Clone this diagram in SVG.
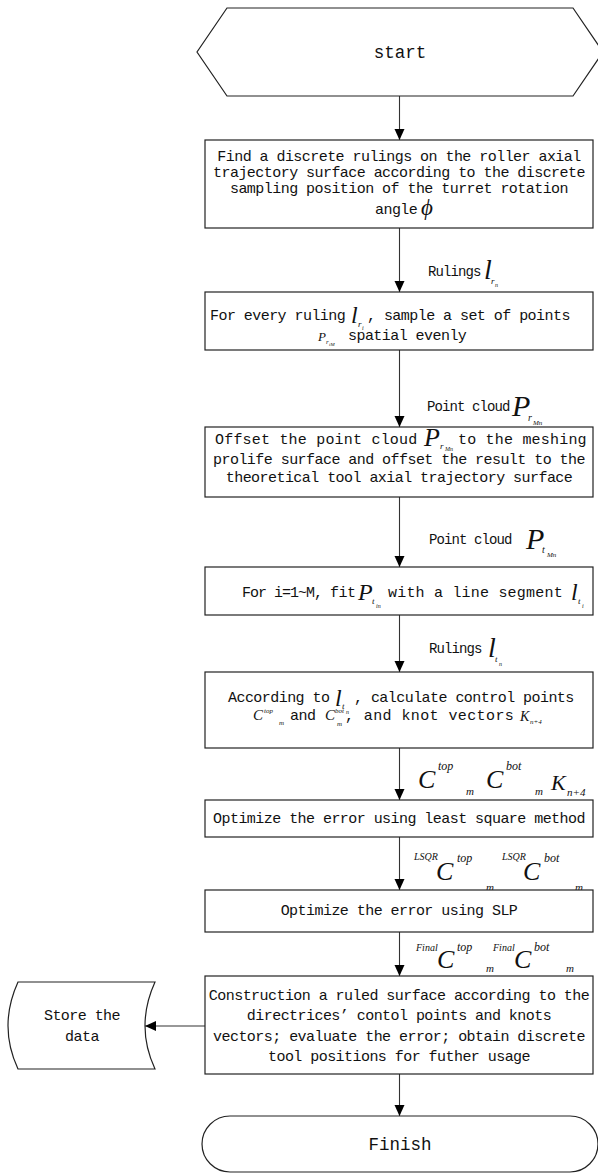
<svg xmlns="http://www.w3.org/2000/svg" width="598" height="1174" viewBox="0 0 598 1174">
<style>
.box{fill:#fff;stroke:#222;stroke-width:1.2}
.t{font-family:"Liberation Mono",monospace;font-size:15px;letter-spacing:-0.55px;fill:#111}
.w{letter-spacing:0.2px}
.l{font-family:"Liberation Mono",monospace;font-size:14px;letter-spacing:-0.9px;fill:#111}
.c{text-anchor:middle}
.big{font-family:"Liberation Mono",monospace;font-size:17.5px;fill:#111;text-anchor:middle}
.m{font-family:"Liberation Serif",serif;font-style:italic;fill:#111}
.conn{stroke:#333;stroke-width:1.1;fill:none}
</style>
<defs>
<marker id="ah" markerUnits="userSpaceOnUse" markerWidth="12" markerHeight="12" refX="11" refY="5" orient="auto">
<path d="M0,0 L11,5 L0,10 Z" fill="#000"/>
</marker>
</defs>
<g id="connectors">
<line class="conn" x1="399.5" y1="96" x2="399.5" y2="140" marker-end="url(#ah)"/>
<line class="conn" x1="399.5" y1="228" x2="399.5" y2="292" marker-end="url(#ah)"/>
<line class="conn" x1="399.5" y1="350" x2="399.5" y2="427" marker-end="url(#ah)"/>
<line class="conn" x1="399.5" y1="497" x2="399.5" y2="567" marker-end="url(#ah)"/>
<line class="conn" x1="399.5" y1="615" x2="399.5" y2="672" marker-end="url(#ah)"/>
<line class="conn" x1="399.5" y1="748" x2="399.5" y2="800" marker-end="url(#ah)"/>
<line class="conn" x1="399.5" y1="837" x2="399.5" y2="890" marker-end="url(#ah)"/>
<line class="conn" x1="399.5" y1="932" x2="399.5" y2="976" marker-end="url(#ah)"/>
<line class="conn" x1="205" y1="1026" x2="145" y2="1026" marker-end="url(#ah)"/>
<line class="conn" x1="399.5" y1="1074" x2="399.5" y2="1116" marker-end="url(#ah)"/>
</g>
<g id="labels">
<text class="l" x="428" y="276">Rulings</text>
<text class="m" x="484" y="279" font-size="28">l</text>
<text class="m" x="491" y="284" font-size="9">r</text>
<text class="m" x="495" y="287" font-size="6">n</text>

<text class="l" x="427" y="411">Point cloud</text>
<text class="m" x="512" y="416" font-size="30">P</text>
<text class="m" x="528" y="421" font-size="10">r</text>
<text class="m" x="533" y="425" font-size="7">Mn</text>

<text class="l" x="429" y="544">Point cloud</text>
<text class="m" x="526" y="549" font-size="30">P</text>
<text class="m" x="542" y="553" font-size="10">t</text>
<text class="m" x="547" y="557" font-size="7">Mn</text>

<text class="l" x="429" y="653">Rulings</text>
<text class="m" x="488" y="657" font-size="28">l</text>
<text class="m" x="495" y="662" font-size="9">t</text>
<text class="m" x="499" y="666" font-size="6">n</text>

<text class="m" x="418" y="788" font-size="26">C</text>
<text class="m" x="438" y="770" font-size="12">top</text>
<text class="m" x="466" y="795" font-size="11">m</text>
<text class="m" x="486" y="788" font-size="26">C</text>
<text class="m" x="506" y="770" font-size="12">bot</text>
<text class="m" x="535" y="795" font-size="11">m</text>
<text class="m" x="551" y="790" font-size="22">K</text>
<text class="m" x="567" y="796" font-size="11">n+4</text>

<text class="m" x="414" y="860" font-size="10">LSQR</text>
<text class="m" x="436" y="880" font-size="26">C</text>
<text class="m" x="457" y="862" font-size="12">top</text>
<text class="m" x="486" y="891" font-size="11">m</text>
<text class="m" x="502" y="860" font-size="10">LSQR</text>
<text class="m" x="523" y="880" font-size="26">C</text>
<text class="m" x="544" y="862" font-size="12">bot</text>
<text class="m" x="575" y="891" font-size="11">m</text>

<text class="m" x="416" y="951" font-size="10">Final</text>
<text class="m" x="437" y="968" font-size="26">C</text>
<text class="m" x="457" y="951" font-size="12">top</text>
<text class="m" x="486" y="972" font-size="11">m</text>
<text class="m" x="493" y="951" font-size="10">Final</text>
<text class="m" x="514" y="968" font-size="26">C</text>
<text class="m" x="534" y="951" font-size="12">bot</text>
<text class="m" x="566" y="972" font-size="11">m</text>
</g>
<g id="start">
<polygon class="box" points="227,8 573,8 603,52 573,96 227,96 197,52"/>
<text class="big" x="400" y="58">start</text>
</g>
<g id="box1">
<rect class="box" x="205" y="140" width="388" height="88"/>
<text class="t c" x="399" y="161">Find a discrete rulings on the roller axial</text>
<text class="t c" x="399" y="177">trajectory surface according to the discrete</text>
<text class="t c" x="399" y="193">sampling position of the turret rotation</text>
<text class="t" x="375" y="214">angle</text>
<text class="m" x="421" y="215" font-size="23">ϕ</text>
</g>
<g id="box2">
<rect class="box" x="205" y="292" width="388" height="58"/>
<text class="t" x="210" y="320">For every ruling</text>
<text class="m" x="351" y="323" font-size="24">l</text>
<text class="m" x="358" y="327" font-size="9">r</text>
<text class="m" x="362" y="330" font-size="6">i</text>
<text class="t" x="367" y="320">, sample a set of points</text>
<text class="m" x="318" y="341" font-size="13">P</text>
<text class="m" x="326" y="344" font-size="7">r</text>
<text class="m" x="329" y="346" font-size="5">iM</text>
<text class="t" x="348" y="340">spatial evenly</text>
</g>
<g id="box3">
<rect class="box" x="205" y="427" width="388" height="70"/>
<text class="t w" x="215" y="444">Offset the point cloud</text>
<text class="m" x="424" y="446" font-size="26">P</text>
<text class="m" x="440" y="449" font-size="9">r</text>
<text class="m" x="445" y="451" font-size="6">Mn</text>
<text class="t w" x="458" y="444">to the meshing</text>
<text class="t c" x="399" y="464">prolife surface and offset the result to the</text>
<text class="t c" x="399" y="482">theoretical tool axial trajectory surface</text>
</g>
<g id="box4">
<rect class="box" x="205" y="567" width="388" height="48"/>
<text class="t" x="242" y="597" style="letter-spacing:-1px">For i=1~M,</text>
<text class="t" x="330" y="597">fit</text>
<text class="m" x="358" y="600" font-size="24">P</text>
<text class="m" x="372" y="604" font-size="9">t</text>
<text class="m" x="376" y="608" font-size="6">in</text>
<text class="t w" x="388" y="597">with a line segment</text>
<text class="m" x="571" y="600" font-size="24">l</text>
<text class="m" x="578" y="604" font-size="9">t</text>
<text class="m" x="582" y="608" font-size="6">i</text>
</g>
<g id="box5">
<rect class="box" x="205" y="672" width="388" height="76"/>
<text class="t" x="228" y="702">According to</text>
<text class="m" x="335" y="706" font-size="24">l</text>
<text class="m" x="342" y="709" font-size="9">t</text>
<text class="m" x="346" y="714" font-size="6">n</text>
<text class="t" x="354" y="702">, calculate control points</text>
<text class="m" x="253" y="720" font-size="15">C</text>
<text class="m" x="264" y="713" font-size="7">top</text>
<text class="m" x="279" y="725" font-size="7">m</text>
<text class="t" x="290" y="720">and</text>
<text class="m" x="325" y="720" font-size="15">C</text>
<text class="m" x="335" y="713" font-size="7">bot</text>
<text class="m" x="337" y="726" font-size="7">m</text>
<text class="t" x="345" y="720" style="letter-spacing:0.4px">, and knot vectors</text>
<text class="m" x="520" y="721" font-size="14">K</text>
<text class="m" x="530" y="724" font-size="7">n+4</text>
</g>
<g id="box6">
<rect class="box" x="205" y="800" width="388" height="37"/>
<text class="t c" x="399" y="823">Optimize the error using least square method</text>
</g>
<g id="box7">
<rect class="box" x="205" y="890" width="388" height="42"/>
<text class="t c" x="399" y="915">Optimize the error using SLP</text>
</g>
<g id="box8">
<rect class="box" x="205" y="976" width="388" height="98"/>
<text class="t c" x="399" y="1000">Construction a ruled surface according to the</text>
<text class="t c" x="399" y="1020">directrices’  contol points and knots</text>
<text class="t c" x="399" y="1041">vectors; evaluate the error; obtain discrete</text>
<text class="t c" x="399" y="1061">tool positions for futher usage</text>
</g>
<g id="store">
<path class="box" d="M18,982 L155,982 Q135,1026 155,1069 L18,1069 Q-2,1026 18,982 Z"/>
<text class="t c" x="82" y="1020">Store the</text>
<text class="t c" x="82" y="1041">data</text>
</g>
<g id="finish">
<rect class="box" x="202" y="1116" width="396" height="56" rx="28" ry="28"/>
<text class="big" x="400" y="1150">Finish</text>
</g>
</svg>
